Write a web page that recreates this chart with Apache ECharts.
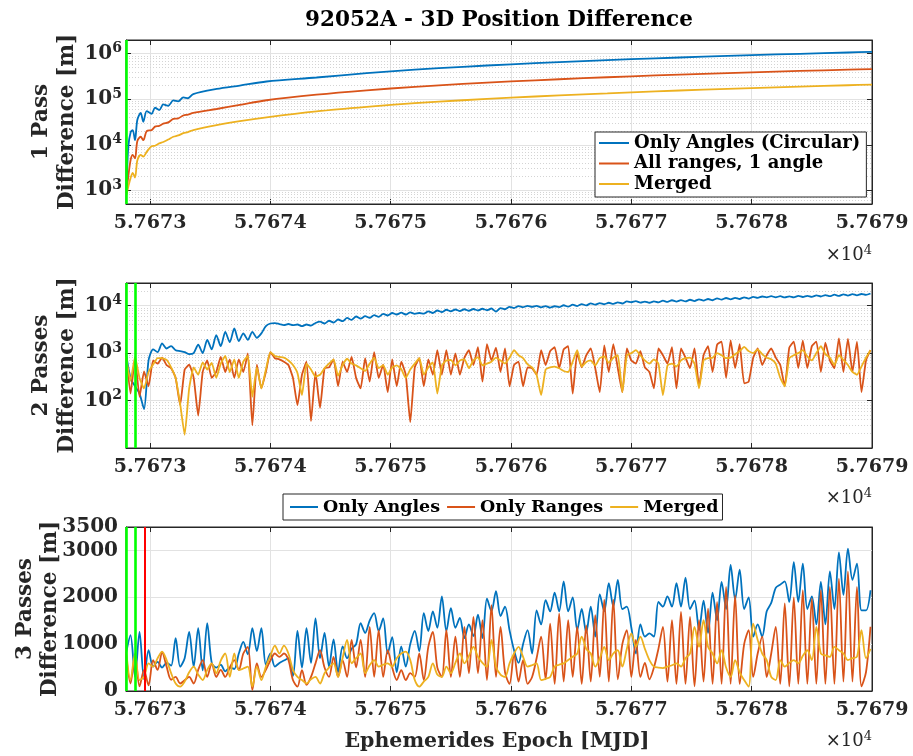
<!DOCTYPE html>
<html><head><meta charset="utf-8">
<script src="https://cdn.jsdelivr.net/npm/echarts@6/dist/echarts.min.js"></script>
<style>html,body{margin:0;padding:0;background:#fff}#c{width:913px;height:756px}</style>
</head><body><div id="c"></div>
<script>
// ---------------- DATA ----------------
const chartTitle = '92052A - 3D Position Difference';
const xAxisTitle = 'Ephemerides Epoch [MJD]';
const xTicks = [57673, 57674, 57675, 57676, 57677, 57678, 57679];
const xMin = 57672.8, xMax = 57679;
const panelNames = [['1 Pass', 'Difference [m]'], ['2 Passes', 'Difference [m]'], ['3 Passes', 'Difference [m]']];
const legend1Names = ['Only Angles (Circular)', 'All ranges, 1 angle', 'Merged'];
const legend2Names = ['Only Angles', 'Only Ranges', 'Merged'];
const p3Ticks = [0, 1000, 2000, 3000, 3500];

// pass markers (epochs of vertical lines)
const p1Green = [57672.806];
const p2Green = [57672.804, 57672.879];
const p3Green = [57672.804, 57672.879];
const p3Red = [57672.958];

// panel 1 (log)
const p1Epochs = [57672.804, 57672.819, 57672.839, 57672.856, 57672.875, 57672.894, 57672.922, 57672.944, 57672.972,
  57673.013, 57673.041, 57673.076, 57673.110, 57673.151, 57673.193, 57673.234, 57673.276, 57673.315, 57673.359,
  57673.553, 57673.746, 57673.968, 57674.383, 57674.8, 57675.2, 57675.6, 57676.0, 57676.4, 57676.8, 57677.2,
  57677.6, 57678.0, 57678.4, 57678.8, 57679.0];
const p1OnlyAngles = [1000, 9000, 19000, 21000, 12600, 35000, 50000, 32000, 55000,
  48000, 65000, 58000, 77000, 72000, 94000, 90000, 110000, 105000, 130000,
  168000, 200000, 245000, 300000, 375000, 445000, 516000, 585000, 655000, 724000, 793000,
  860000, 930000, 996000, 1063000, 1100000];
const p1AllRanges = [870, 2000, 4700, 6000, 5000, 12000, 15000, 12600, 20000,
  21000, 25000, 26000, 29000, 31000, 37000, 38000, 44000, 46000, 50000,
  61000, 75000, 95000, 126000, 157000, 187000, 217000, 246000, 275000, 304000, 333000,
  361000, 390000, 418000, 447000, 460000];
const p1Merged = [800, 1200, 1900, 2400, 1900, 4500, 6000, 5500, 7000,
  9300, 9500, 10700, 11500, 13000, 15000, 16000, 18000, 19000, 21000,
  27000, 33000, 40000, 54000, 68000, 82000, 95000, 108000, 122000, 135000, 149000,
  162000, 176000, 190000, 203000, 210000];

// panels 2 and 3 are sampled on a regular epoch grid
const gridStart = 57672.8, gridStep = 0.0375;

const p2OnlyAngles = [1000,300,200,140,66,700,1200,1050,1600,1250,
 1400,1150,1100,1050,950,1000,1500,1000,1900,1200,
 2400,1400,2800,1700,3300,1800,2600,1900,2800,2100,
 2600,3700,4200,4300,4100,3900,4100,3900,4000,3700,
 4000,3800,4300,4600,4200,4800,4400,5100,4700,5500,
 5000,5900,5300,6000,5500,6300,5800,6700,6200,7000,
 6500,7100,6500,7200,6700,7000,6800,7600,7000,7900,
 7300,8200,7600,8300,7700,8400,7800,8500,7900,8600,
 8000,8700,7500,8900,8400,9400,8900,9800,9300,9900,
 9400,9900,9200,9800,9100,9700,9300,10200,9500,10500,
 9800,10800,10100,11200,10500,11300,10700,11500,10900,11700,
 11100,12300,11800,12400,11600,12200,11500,12300,11700,12700,
 12000,13000,12200,13100,12300,13300,12500,13600,12800,13800,
 13000,14200,13400,14500,13600,14600,13800,15000,14100,15300,
 14600,15600,15000,15800,15000,15800,14900,15700,15000,16000,
 15200,16100,15300,16400,15600,16700,15800,17000,16000,17300,
 16300,17500,16500,17600,16800,18000];
const p2OnlyRanges = [980,140,780,120,410,200,700,600,800,560,
 480,300,80,450,570,300,48,400,700,300,
 400,830,400,740,300,740,400,980,30,570,
 180,400,1050,780,740,660,560,300,80,350,
 660,37,400,70,480,500,740,200,660,400,
 830,300,180,780,250,1050,300,570,150,740,
 200,660,350,35,500,780,200,740,350,1150,
 350,1150,350,980,350,800,1150,560,1330,250,
 1550,700,1300,400,1250,200,560,660,200,500,
 480,350,1150,560,1100,1330,480,1200,1400,140,
 1000,500,900,1250,480,150,1450,400,1550,480,
 150,1250,700,600,1100,500,400,180,1250,900,
 600,1330,180,1250,800,480,1250,200,900,1400,
 400,1500,1750,300,1850,480,1550,230,250,800,
 1250,560,900,1250,800,560,200,1300,1750,480,
 1850,480,1400,1750,400,1650,700,480,2050,400,
 2000,400,1750,150,700,1150];
const p2Merged = [830,260,830,300,180,400,570,780,780,720,
 500,300,85,19,180,500,350,640,450,620,
 300,600,870,400,740,300,660,870,120,500,
 180,450,1050,870,830,800,700,560,380,130,
 600,450,320,350,480,600,740,330,560,760,
 600,550,480,420,600,800,480,560,350,500,
 550,460,300,450,600,780,350,500,640,140,
 550,700,720,550,700,740,480,700,820,550,
 600,660,800,700,600,800,1150,900,780,580,
 500,350,130,450,500,520,480,420,400,660,
 1150,520,650,700,550,780,850,620,800,900,
 150,900,1000,1150,900,700,600,740,600,130,
 550,600,520,700,780,800,600,180,700,780,
 800,1000,900,780,800,950,1100,1350,1100,1000,
 1200,950,800,740,600,300,200,780,900,1000,
 1150,850,700,1000,1400,950,800,560,900,720,
 560,400,350,520,800,1150];

const p3OnlyAngles = [800,1190,300,1260,250,870,520,620,500,600,
 540,1130,520,700,1260,520,1340,440,1450,600,
 500,560,420,500,470,800,1050,780,1340,850,
 1340,560,800,520,600,650,700,320,1280,500,
 1340,600,1550,700,1240,520,1100,400,950,700,
 900,1000,1450,1240,1500,1660,1280,1550,800,1150,
 400,950,520,1000,1280,850,1660,1280,1700,1350,
 2020,1280,1770,1350,1560,1130,1420,1170,1630,1130,
 1970,1700,2130,1600,1800,1300,870,600,1000,1300,
 800,1720,1420,1940,1700,2100,1700,2340,1700,2000,
 1300,1750,1240,1800,1160,2060,1700,2300,1800,2370,
 1750,1800,1350,800,1420,1160,1230,1160,1900,1800,
 2020,1800,2300,1800,2420,1750,1930,1300,1930,1240,
 2100,1510,2330,1750,2690,1950,2590,1750,2000,1160,
 1420,1160,1700,1880,2200,2270,2340,1900,2750,1900,
 2720,1750,2020,1420,2330,1420,2550,1750,2960,2050,
 3040,2370,2720,1720,1720,2150];
const p3OnlyRanges = [800,160,750,100,450,120,660,450,830,520,
 240,300,160,230,300,160,450,660,300,590,
 300,450,300,500,660,450,800,940,20,590,
 300,450,650,800,730,800,660,234,92,447,
 130,300,590,870,500,300,730,300,660,300,
 1090,500,1090,300,1370,300,1300,300,870,500,
 234,447,234,380,300,800,234,943,1260,500,
 300,1300,300,1160,300,1370,380,1580,380,1510,
 234,1830,300,1370,400,150,800,200,660,150,
 300,700,1160,250,1440,150,1650,200,1510,300,
 1370,150,1400,200,1620,300,1950,200,1950,250,
 1000,1300,300,1090,300,600,250,500,900,1370,
 200,1510,150,1690,150,1580,100,1510,200,1760,
 150,1900,150,2220,150,2040,150,1000,1300,300,
 800,1160,300,800,1370,150,1870,100,2000,150,
 2150,150,1970,150,2150,150,2220,150,2400,200,
 2550,200,2220,100,400,1370];
const p3Merged = [900,234,800,234,300,590,520,700,840,660,
 380,160,92,200,400,520,350,234,450,590,
 380,650,800,300,800,447,480,520,92,520,
 234,520,750,970,800,970,800,447,300,234,
 160,250,300,160,380,500,590,300,700,1090,
 590,700,800,380,550,660,520,560,590,520,
 700,800,840,660,234,92,200,300,590,350,
 300,520,380,600,800,590,750,943,730,600,
 520,1090,520,350,300,590,800,943,730,520,
 550,590,234,260,300,520,560,590,660,730,
 800,1160,900,800,520,700,943,660,800,870,
 520,900,1230,943,1160,900,660,520,500,490,
 520,550,590,520,700,800,1370,943,1510,943,
 800,590,870,500,300,660,400,234,92,1440,
 1090,800,660,300,234,660,520,600,660,590,
 750,870,660,1370,800,760,730,943,870,800,
 660,700,730,1300,700,900];

// ---------------- STYLE ----------------
const FONT = '"DejaVu Serif"';
const INK = '#262626';
const BLUE = '#0072BD', ORANGE = '#D95319', YELLOW = '#EDB120';
const GRID_C = '#e2e2e2', MINOR_C = '#d4d4d4';
const LW = 1.8;

const grids = [
  {left: 126, top: 40, width: 746, height: 164},
  {left: 126, top: 283, width: 746, height: 165},
  {left: 126, top: 527, width: 746, height: 164}
];
// horizontal centres of the two lines of each y-axis title
const nameCols = [[41, 67], [41, 67], [25, 50]];

function gridEpochs(n) { const out = []; for (let i = 0; i < n; i++) out.push(+(gridStart + i * gridStep).toFixed(4)); return out; }
function zip(xs, ys) { return ys.map((y, i) => [xs[i], y]); }

const isInt = v => Math.abs(v - Math.round(v)) < 1e-6;
const xLabelFmt = v => (isInt(v) && xTicks.indexOf(Math.round(v)) >= 0) ? (Math.round(v) / 1e4).toFixed(4) : '';
const logFmt = v => { const e = Math.log10(v); return Math.abs(e - Math.round(e)) < 1e-6 ? '{b|10}{s|' + Math.round(e) + '}' : ''; };
const logRich = {
  b: {fontFamily: FONT, fontWeight: 'bold', fontSize: 20, color: INK},
  s: {fontFamily: FONT, fontWeight: 'bold', fontSize: 14, color: INK, verticalAlign: 'bottom', padding: [0, 0, 10, 0]}
};

function xAxisBottom(gi) {
  return {type: 'value', gridIndex: gi, min: xMin, max: xMax, position: 'bottom',
    axisLine: {show: true, onZero: false, lineStyle: {color: INK, width: 1}},
    axisTick: {show: true, inside: true, length: 5, lineStyle: {color: INK}},
    axisLabel: {formatter: xLabelFmt, fontFamily: FONT, fontWeight: 'bold', fontSize: 19, color: INK, margin: 10, showMinLabel: false, showMaxLabel: true, hideOverlap: false},
    splitLine: {show: true, lineStyle: {color: GRID_C, width: 1}}};
}
function xAxisTop(gi) {
  return {type: 'value', gridIndex: gi, min: xMin, max: xMax, position: 'top',
    axisLine: {show: true, onZero: false, lineStyle: {color: INK, width: 1}},
    axisTick: {show: true, inside: true, length: 5, lineStyle: {color: INK}},
    axisLabel: {show: false}, splitLine: {show: false}};
}
function yLog(gi, min, max, pos) {
  return {type: 'log', logBase: 10, gridIndex: gi, min: min, max: max, position: pos,
    axisLine: {show: true, onZero: false, lineStyle: {color: INK, width: 1}},
    axisTick: {show: true, inside: true, length: 5, lineStyle: {color: INK}},
    axisLabel: pos === 'left' ? {formatter: logFmt, rich: logRich, margin: 4, showMinLabel: false, showMaxLabel: false} : {show: false},
    splitLine: {show: pos === 'left', lineStyle: {color: GRID_C, width: 1}}};
}
function yLin(gi, pos) {
  return {type: 'value', gridIndex: gi, min: 0, max: 3500, interval: 500, position: pos,
    axisLine: {show: true, onZero: false, lineStyle: {color: INK, width: 1}},
    axisTick: {show: true, inside: true, length: 5, lineStyle: {color: INK}, customValues: p3Ticks},
    axisLabel: pos === 'left' ? {customValues: p3Ticks, formatter: v => (v % 1000 === 0 || v === 3500) ? String(v) : '', fontFamily: FONT, fontWeight: 'bold', fontSize: 20, color: INK, margin: 8} : {show: false},
    splitLine: {show: false}};
}

function logMinorLines(lo, hi) {
  const out = [];
  for (let e = Math.floor(Math.log10(lo)); e <= Math.ceil(Math.log10(hi)); e++)
    for (let m = 2; m <= 9; m++) { const v = m * Math.pow(10, e); if (v > lo * 1.0001 && v < hi * 0.9999) out.push({yAxis: v}); }
  return out;
}
function gridMarks(items) {
  return {silent: true, symbol: ['none', 'none'], animation: false, z: 1, precision: 6, label: {show: false},
    lineStyle: {type: [1, 2], color: MINOR_C, width: 1}, emphasis: {disabled: true}, data: items};
}
function passMarks(green, red) {
  const d = green.map(v => ({xAxis: v, lineStyle: {color: '#00ff00', width: 2.6, type: 'solid'}}))
    .concat((red || []).map(v => ({xAxis: v, lineStyle: {color: '#ff0000', width: 2, type: 'solid'}})));
  return {silent: true, symbol: ['none', 'none'], animation: false, z: 10, precision: 6, label: {show: false}, emphasis: {disabled: true}, data: d};
}
function line(name, gi, data, color, extra) {
  return Object.assign({type: 'line', name: name, xAxisIndex: gi, yAxisIndex: gi, data: data,
    showSymbol: false, symbol: 'none', smooth: 0.3, clip: true, animation: false,
    lineStyle: {color: color, width: LW}, itemStyle: {color: color}, emphasis: {disabled: true}}, extra || {});
}

const e23 = gridEpochs(p2OnlyAngles.length);

const series = [
  line(legend1Names[0], 0, zip(p1Epochs, p1OnlyAngles), BLUE, {markLine: gridMarks(logMinorLines(500, 2e6))}),
  line(legend1Names[1], 0, zip(p1Epochs, p1AllRanges), ORANGE),
  line(legend1Names[2], 0, zip(p1Epochs, p1Merged), YELLOW, {markLine: passMarks(p1Green)}),
  line(legend2Names[0], 1, zip(e23, p2OnlyAngles), BLUE, {markLine: gridMarks(logMinorLines(10, 3e4)), smooth: 0.25}),
  line(legend2Names[1], 1, zip(e23, p2OnlyRanges), ORANGE, {smooth: 0.15}),
  line(legend2Names[2], 1, zip(e23, p2Merged), YELLOW, {smooth: 0.15, markLine: passMarks(p2Green)}),
  line(legend2Names[0], 2, zip(e23, p3OnlyAngles), BLUE, {markLine: Object.assign(gridMarks([1000, 2000, 3000].map(v => ({yAxis: v}))), {lineStyle: {type: 'solid', color: GRID_C, width: 1}})}),
  line(legend2Names[1], 2, zip(e23, p3OnlyRanges), ORANGE),
  line(legend2Names[2], 2, zip(e23, p3Merged), YELLOW, {markLine: passMarks(p3Green, p3Red)})
];

// y-axis titles as rotated texts
const nameGraphics = [];
panelNames.forEach((lines, pi) => {
  const cy = grids[pi].top + grids[pi].height / 2;
  lines.forEach((t, li) => nameGraphics.push({type: 'text', x: nameCols[pi][li], y: cy, rotation: Math.PI / 2,
    style: {text: t, font: 'bold 21.5px ' + FONT, fill: INK, align: 'center', verticalAlign: 'middle', textAlign: 'center', textVerticalAlign: 'middle'}}));
});

const legendText = {fontFamily: FONT, fontWeight: 'bold', fontSize: 18, color: '#000'};
const option = {
  animation: false,
  backgroundColor: '#fff',
  grid: grids.map(g => Object.assign({show: true, borderColor: INK, borderWidth: 1, backgroundColor: '#fff', containLabel: false, outerBoundsMode: 'none'}, g)),
  xAxis: [xAxisBottom(0), xAxisBottom(1), xAxisBottom(2), xAxisTop(0), xAxisTop(1), xAxisTop(2)],
  yAxis: [yLog(0, 500, 2e6, 'left'), yLog(1, 10, 3e4, 'left'), yLin(2, 'left'),
          yLog(0, 500, 2e6, 'right'), yLog(1, 10, 3e4, 'right'), yLin(2, 'right')],
  legend: [
    {data: legend1Names, orient: 'vertical', left: 595, top: 132, itemWidth: 30, itemHeight: 2, itemGap: 2.5, icon: 'rect',
     padding: [2, 6, 4, 4], backgroundColor: '#fff', borderColor: INK, borderWidth: 1, borderRadius: 0,
     selectedMode: false, textStyle: legendText},
    {data: legend2Names, orient: 'horizontal', left: 283, top: 494, itemWidth: 28, itemHeight: 2, itemGap: 7, icon: 'rect',
     padding: [4, 4, 4, 7], backgroundColor: '#fff', borderColor: INK, borderWidth: 1, borderRadius: 0,
     selectedMode: false, textStyle: Object.assign({}, legendText, {fontSize: 17.5, lineHeight: 17})}
  ],
  graphic: [
    {type: 'text', x: 499, y: 20, style: {text: chartTitle, font: 'bold 21.5px ' + FONT, fill: '#000', align: 'center', verticalAlign: 'middle', textAlign: 'center', textVerticalAlign: 'middle'}},
    {type: 'text', x: 497, y: 742, style: {text: xAxisTitle, font: 'bold 20.5px ' + FONT, fill: INK, align: 'center', verticalAlign: 'middle', textAlign: 'center', textVerticalAlign: 'middle'}}
  ].concat(nameGraphics).concat([255, 498, 741].map(y => ({type: 'text', x: 872, y: y,
    style: {text: '{a|\u00d710}{s|4}', align: 'right', verticalAlign: 'middle', textAlign: 'right', textVerticalAlign: 'middle',
      rich: {a: {font: '18px ' + FONT, fill: INK, color: INK}, s: {font: '13px ' + FONT, fill: INK, color: INK, verticalAlign: 'bottom', padding: [0, 0, 9, 0]}}}}))),
  series: series
};

const chart = echarts.init(document.getElementById('c'), null, {renderer: 'canvas', width: 913, height: 756});
chart.setOption(option);
</script>
</body></html>
